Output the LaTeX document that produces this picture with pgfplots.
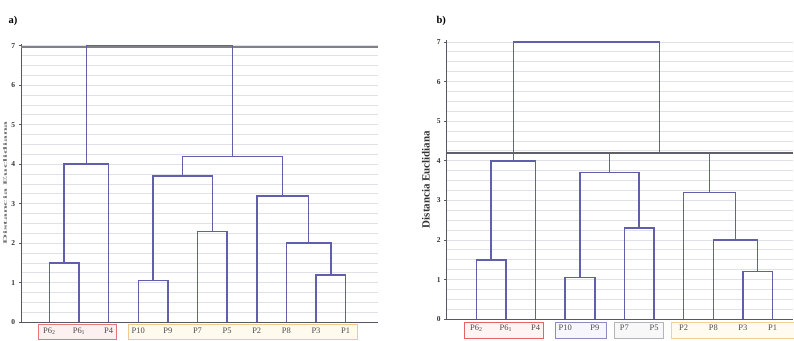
\documentclass[border=0pt]{standalone}
\usepackage{pgfplots}
\pgfplotsset{compat=1.18}
\usepackage{fontspec}
\setmainfont{Liberation Serif}

\definecolor{dendro}{RGB}{96,96,170}
\definecolor{cutA}{RGB}{128,128,136}
\definecolor{cutB}{RGB}{96,96,108}
\definecolor{gridc}{RGB}{224,224,232}
\definecolor{axisc}{RGB}{88,88,100}

\pgfplotsset{
  dendaxis/.style={
    set layers, scale only axis, enlargelimits=false, clip=false,
    axis lines*=left, axis line style={axisc, line width=1.1pt},
    ymin=0, ymax=7.05, ytick={0,...,7}, minor y tick num=3,
    ymajorgrids, yminorgrids,
    major grid style={gridc, line width=0.8pt},
    minor grid style={gridc, line width=0.8pt},
    tick align=outside, major tick length=2.5pt, minor tick length=0pt,
    major tick style={axisc, line width=0.6pt},
    xtick={0,...,10},
    xticklabels={P6\textsubscript{2}, P6\textsubscript{1}, P4, P10, P9, P7, P5, P2, P8, P3, P1},
    x tick style={draw=none},
    xticklabel style={font=\fontsize{8.5}{9}\selectfont, text=black!70, yshift=0pt},
    yticklabel style={font=\bfseries\fontsize{7.5}{8}\selectfont, text=black!80},
    /pgf/number format/assume math mode=true,
  },
  link/.style={dendro, line width=1.5pt, no marks, forget plot},
}

% one link of the tree: left child (x,h), right child (x,h), merge height
\newcommand{\link}[5]{\addplot[link] coordinates {(#1,#2) (#1,#5) (#3,#5) (#3,#4)};}

% the full tree, leaves at 0..10
\newcommand{\tree}{%
  \link{0}{0}{1}{0}{1.5}
  \link{0.5}{1.5}{2}{0}{4.0}
  \link{3}{0}{4}{0}{1.05}
  \link{5}{0}{6}{0}{2.3}
  \link{3.5}{1.05}{5.5}{2.3}{3.7}
  \link{9}{0}{10}{0}{1.2}
  \link{8}{0}{9.5}{1.2}{2.0}
  \link{7}{0}{8.75}{2.0}{3.2}
  \link{4.5}{3.7}{7.875}{3.2}{4.2}
  \link{1.25}{4.0}{6.1875}{4.2}{7.0}
}

\begin{document}
\begin{tikzpicture}[x=1pt,y=1pt]
\path (0,0) rectangle (794,341);

\node[font=\bfseries\fontsize{10.5}{12}\selectfont, anchor=west, inner sep=0pt] at (7,320) {a)};
\node[font=\bfseries\fontsize{10.5}{12}\selectfont, anchor=west, inner sep=0pt] at (436,320) {b)};

% ---------------- a) cut at the top level
\begin{axis}[dendaxis,
  at={(19.8pt,18pt)}, anchor=south west,
  width=357.9pt, height=279.2pt,
  xmin=-0.95, xmax=11.1,
  ylabel={\scalebox{2.0}[0.75]{\bfseries\fontsize{7}{8}\selectfont Distancia Euclidiana}},
  ylabel style={at={(axis description cs:-0.045,0.5)}, anchor=center, text=black!55},
]
\begin{pgfonlayer}{axis background}
  \filldraw[draw={rgb,255:red,226;green,120;blue,120}, fill={rgb,255:red,253;green,240;blue,240}, line width=0.7pt]
    (axis cs:-0.37,-0.05) rectangle (axis cs:2.26,-0.44);
  \filldraw[draw={rgb,255:red,242;green,200;blue,140}, fill={rgb,255:red,255;green,250;blue,238}, line width=0.7pt]
    (axis cs:2.66,-0.05) rectangle (axis cs:10.4,-0.44);
\end{pgfonlayer}
\addplot[cutA, line width=1.8pt, no marks, forget plot] coordinates {(-0.95,6.97) (11.1,6.97)};
\tree
\end{axis}

% ---------------- b) cut at 4.2
\begin{axis}[dendaxis,
  at={(446.3pt,21pt)}, anchor=south west,
  width=347.5pt, height=279.9pt,
  xmin=-1, xmax=10.7,
  ylabel={\bfseries\fontsize{11}{12}\selectfont Distancia Euclidiana},
  ylabel style={at={(axis description cs:-0.06,0.5)}, anchor=center, text=black!80},
]
\begin{pgfonlayer}{axis background}
  \filldraw[draw={rgb,255:red,226;green,100;blue,100}, fill={rgb,255:red,254;green,244;blue,244}, line width=0.7pt]
    (axis cs:-0.4,-0.08) rectangle (axis cs:2.26,-0.48);
  \filldraw[draw={rgb,255:red,140;green,140;blue,196}, fill={rgb,255:red,246;green,246;blue,252}, line width=0.7pt]
    (axis cs:2.66,-0.08) rectangle (axis cs:4.38,-0.48);
  \filldraw[draw={rgb,255:red,180;green,180;blue,184}, fill={rgb,255:red,248;green,248;blue,248}, line width=0.7pt]
    (axis cs:4.65,-0.08) rectangle (axis cs:6.33,-0.48);
  \filldraw[overlay, draw={rgb,255:red,242;green,208;blue,150}, fill={rgb,255:red,255;green,251;blue,238}, line width=0.7pt]
    (axis cs:6.6,-0.08) rectangle (axis cs:11.5,-0.48);
\end{pgfonlayer}
\tree
\addplot[cutB, line width=1.5pt, no marks, forget plot] coordinates {(-1,4.2) (10.7,4.2)};
\end{axis}
\end{tikzpicture}
\end{document}
